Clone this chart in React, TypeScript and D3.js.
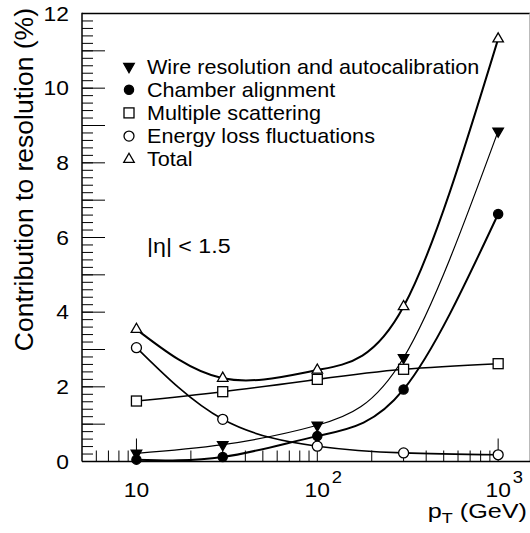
import * as d3 from "d3";

const pt = [10, 30, 100, 300, 1000];
const wire = [0.22, 0.45, 0.97, 2.78, 8.85];
const chamber = [0.05, 0.12, 0.68, 1.93, 6.63];
const scattering = [1.62, 1.87, 2.2, 2.47, 2.62];
const eloss = [3.05, 1.13, 0.41, 0.23, 0.18];
const total = [3.54, 2.23, 2.45, 4.15, 11.32];

const legendLabels = [
  "Wire resolution and autocalibration",
  "Chamber alignment",
  "Multiple scattering",
  "Energy loss fluctuations",
  "Total",
];
const yTickLabels = [0, 2, 4, 6, 8, 10, 12];
const xMajor = [10, 100, 1000];
const xMajorText = [
  { base: "10", exp: "" },
  { base: "10", exp: "2" },
  { base: "10", exp: "3" },
];

const font = "'Liberation Sans', Arial, sans-serif";

// text that is a bit wider than the font (the original picture is stretched sideways)
function T({ x, y, size, sx = 1.15, anchor = "start", children }: any) {
  return (
    <text transform={`translate(${x},${y}) scale(${sx},1)`} fontSize={size} textAnchor={anchor}>
      {children}
    </text>
  );
}

function App() {
  const width = 530;
  const height = 533;
  const left = 82;
  const right = 530;
  const top = 13.5;
  const bottom = 461.5;

  const x = d3.scaleLog().domain([5, 1500]).range([left, right]);
  const y = d3.scaleLinear().domain([0, 12]).range([bottom, top]);

  const line = d3
    .line<[number, number]>()
    .x((d) => x(d[0]))
    .y((d) => y(d[1]))
    .curve(d3.curveNatural);

  // series: values, marker type, stroke width
  const series = [
    { vals: wire, sym: "tdown", sw: 1.2 },
    { vals: chamber, sym: "dot", sw: 2 },
    { vals: scattering, sym: "square", sw: 1.6 },
    { vals: eloss, sym: "circle", sw: 1.6 },
    { vals: total, sym: "tup", sw: 2 },
  ];

  const marker = (sym: string, cx: number, cy: number, key: string) => {
    if (sym === "tdown" || sym === "tup") {
      const p = d3.symbol().type(d3.symbolTriangle).size(48)();
      return (
        <path
          key={key}
          d={p || ""}
          transform={`translate(${cx},${cy}) rotate(${sym === "tdown" ? 180 : 0})`}
          fill={sym === "tdown" ? "#000" : "#fff"}
          stroke="#000"
          strokeWidth={1.3}
        />
      );
    }
    if (sym === "square") {
      return (
        <rect key={key} x={cx - 5} y={cy - 5} width={10} height={10} fill="#fff" stroke="#000" strokeWidth={1.3} />
      );
    }
    return (
      <circle
        key={key}
        cx={cx}
        cy={cy}
        r={sym === "dot" ? 4.6 : 5}
        fill={sym === "dot" ? "#000" : "#fff"}
        stroke="#000"
        strokeWidth={1.3}
      />
    );
  };

  const yMinor = d3.range(0, 60).map((i) => i * 0.2);
  const yMajorTicks = d3.range(0, 13);
  const xMinor: number[] = [];
  [1, 10, 100, 1000].forEach((dec) => {
    for (let m = 2; m <= 9; m++) {
      const v = dec * m;
      if (v > 5 && v < 1500) xMinor.push(v);
    }
  });

  return (
    <svg
      width={width}
      height={height}
      style={{ position: "absolute", left: 0, top: 0, background: "#fff" }}
      fontFamily={font}
    >
      <defs>
        <clipPath id="plot">
          <rect x={left} y={top} width={right - left} height={bottom - top} />
        </clipPath>
      </defs>

      {/* frame */}
      <line x1={left} x2={right} y1={top} y2={top} stroke="#000" strokeWidth={1.5} />
      <line x1={529.5} x2={529.5} y1={top} y2={bottom} stroke="#bbb" strokeWidth={1} />

      {/* y ticks */}
      {yMinor.map((v) => (
        <line key={"ym" + v} x1={left} x2={left + 11} y1={y(v)} y2={y(v)} stroke="#000" strokeWidth={1} />
      ))}
      {yMajorTicks.map((v) => (
        <line key={"yM" + v} x1={left} x2={left + 23} y1={y(v)} y2={y(v)} stroke="#000" strokeWidth={1} />
      ))}
      {yTickLabels.map((v) => (
        <T key={"yl" + v} x={69} y={y(v) + 7} size={19.5} sx={1.17} anchor="end">
          {v}
        </T>
      ))}

      {/* x ticks */}
      {xMinor.map((v) => (
        <line key={"xm" + v} x1={x(v)} x2={x(v)} y1={bottom} y2={bottom - 11} stroke="#000" strokeWidth={1} />
      ))}
      {xMajor.map((v, i) => (
        <g key={"xM" + v}>
          <line x1={x(v)} x2={x(v)} y1={bottom} y2={bottom - 23} stroke="#000" strokeWidth={1} />
          <T x={x(v)} y={497} size={19.5} sx={1.17} anchor="middle">
            {xMajorText[i].base}
          </T>
          {xMajorText[i].exp && (
            <T x={x(v) + 14.5} y={482.5} size={16} sx={1.15}>
              {xMajorText[i].exp}
            </T>
          )}
        </g>
      ))}

      {/* axes */}
      <line x1={left} x2={left} y1={top - 0.75} y2={bottom} stroke="#000" strokeWidth={1.5} />
      <line x1={left} x2={right} y1={bottom} y2={bottom} stroke="#000" strokeWidth={1.5} />

      {/* curves */}
      <g clipPath="url(#plot)">
        {series.map((s, i) => (
          <path
            key={"c" + i}
            d={line(pt.map((p, j) => [p, s.vals[j]] as [number, number])) || ""}
            fill="none"
            stroke="#000"
            strokeWidth={s.sw}
          />
        ))}
      </g>
      {series.map((s, i) => (
        <g key={"m" + i}>{pt.map((p, j) => marker(s.sym, x(p), y(s.vals[j]), `${i}-${j}`))}</g>
      ))}

      {/* legend */}
      {legendLabels.map((lab, i) => (
        <g key={"lg" + i}>
          {marker(series[i].sym, 129, 66.5 + i * 23.2, "lgm" + i)}
          <T x={147} y={66.5 + i * 23.2 + 7} size={20} sx={1.08}>
            {lab}
          </T>
        </g>
      ))}
      <T x={147} y={253} size={20} sx={1.16}>
        |η| &lt; 1.5
      </T>

      {/* axis titles */}
      <T x={527} y={518} size={21} sx={1.2} anchor="end">
        p<tspan fontSize={15} dy={5}>T</tspan>
        <tspan dy={-5}> (GeV)</tspan>
      </T>
      <text transform="translate(33,8) rotate(-90)" fontSize={26.5} textAnchor="end">
        Contribution to resolution (%)
      </text>
    </svg>
  );
}

export default App;
